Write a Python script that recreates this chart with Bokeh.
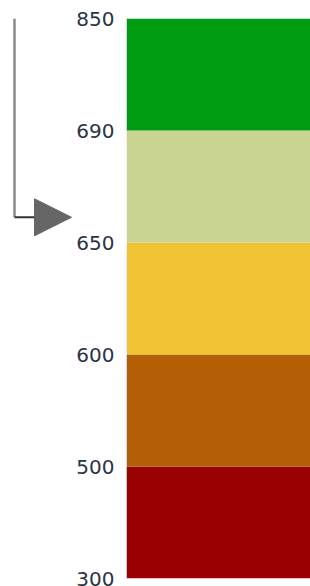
from bokeh.plotting import figure
from bokeh.layouts import row
from bokeh.models import Range1d, FixedTicker, Arrow, NormalHead
from bokeh.embed import file_html
from bokeh.resources import INLINE

# Data
band_edges = [300, 500, 600, 650, 690, 850]
band_colors = ["#990000", "#b45f06", "#f1c232", "#c9d392", "#009c0f"]
pointer_value = 659

n = len(band_colors)
idx_bottom = list(range(n))
idx_top = [i + 1 for i in range(n)]

def to_index(v):
    for i in range(n):
        lo, hi = band_edges[i], band_edges[i + 1]
        if lo <= v <= hi:
            return i + (v - lo) / (hi - lo)
    return 0

yr = Range1d(0, n)
H = 586
TOP, BOT = 18, 8

# Left figure: pointer arrow
pa = figure(width=72, height=H, x_range=Range1d(0, 72), y_range=yr,
            output_backend="svg", toolbar_location=None,
            min_border_top=TOP, min_border_bottom=BOT, min_border_left=0, min_border_right=0)
pa.axis.visible = False
pa.grid.visible = False
pa.outline_line_color = None
py = to_index(pointer_value)
pa.line([14, 14], [n, py], line_color="#8a8a8a", line_width=2.5)
pa.add_layout(Arrow(x_start=14, y_start=py, x_end=71, y_end=py,
                    line_color="#333333", line_width=2,
                    end=NormalHead(size=37, fill_color="#666666", line_color="#666666", line_width=1)))

# Right figure: bands with axis
pb = figure(width=238, height=H, x_range=Range1d(0, 1), y_range=yr,
            output_backend="svg", toolbar_location=None,
            min_border_top=TOP, min_border_bottom=BOT, min_border_left=54, min_border_right=0)
pb.quad(left=0, right=1, bottom=idx_bottom, top=idx_top, fill_color=band_colors, line_color=None)
pb.xaxis.visible = False
pb.grid.visible = False
pb.outline_line_color = None
ya = pb.yaxis[0]
ya.ticker = FixedTicker(ticks=list(range(n + 1)))
ya.major_label_overrides = {i: str(v) for i, v in enumerate(band_edges)}
ya.axis_line_color = None
ya.major_tick_line_color = None
ya.minor_tick_line_color = None
ya.major_tick_out = 0
ya.major_tick_in = 0
ya.major_label_standoff = 12
ya.major_label_text_font = "DejaVu Sans"
ya.major_label_text_font_size = "20px"
ya.major_label_text_color = "#2b3544"

layout = row(pa, pb, spacing=0)
open("out.html", "w").write(file_html(layout, INLINE))
